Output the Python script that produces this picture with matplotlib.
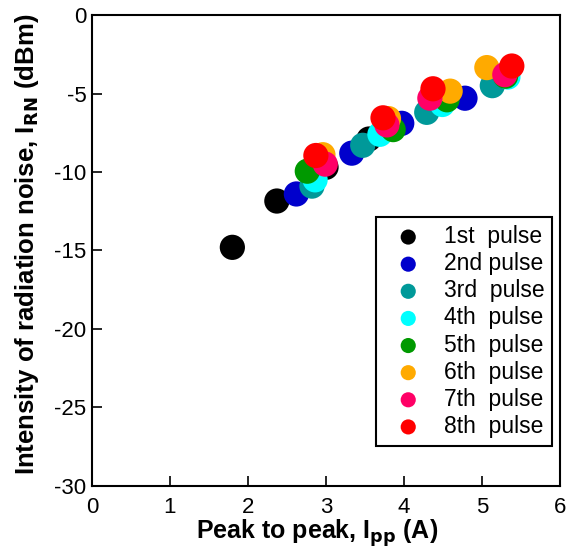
import matplotlib
matplotlib.use("Agg")
import matplotlib.pyplot as plt

plt.rcParams["font.family"] = ["Liberation Sans", "DejaVu Sans"]
plt.rcParams["axes.unicode_minus"] = False

labels = ["1st  pulse", "2nd pulse", "3rd  pulse", "4th  pulse",
          "5th  pulse", "6th  pulse", "7th  pulse", "8th  pulse"]
colors = ["#000000", "#0000cc", "#009999", "#00ffff",
          "#009900", "#ffaa00", "#ff0066", "#ff0000"]

# Ipp (A), IRN (dBm) per impulso
ipp = [
    [1.80, 2.37, 3.00, 3.55],
    [2.62, 3.33, 3.97, 4.78],
    [2.82, 3.47, 4.29, 5.13],
    [2.86, 3.69, 4.49, 5.33],
    [2.76, 3.86, 4.55, 5.30],
    [2.96, 3.80, 4.59, 5.06],
    [2.99, 3.78, 4.33, 5.29],
    [2.87, 3.73, 4.37, 5.38],
]
irn = [
    [-14.8, -11.85, -9.7, -7.9],
    [-11.4, -8.8, -6.9, -5.3],
    [-10.9, -8.3, -6.2, -4.5],
    [-10.5, -7.6, -5.7, -3.95],
    [-9.95, -7.3, -5.4, -3.9],
    [-8.9, -6.6, -4.85, -3.35],
    [-9.5, -7.0, -5.3, -3.8],
    [-8.95, -6.55, -4.7, -3.25],
]

fig = plt.figure(figsize=(5.74, 5.56), dpi=100)
ax = fig.add_axes([0.160, 0.126, 0.816, 0.847])

for x, y, c, lab in zip(ipp, irn, colors, labels):
    ax.scatter(x, y, s=330, color=c, edgecolors="none", label=lab, zorder=3)

ax.set_xlim(0, 6)
ax.set_ylim(-30, 0)
ax.set_xticks(range(0, 7))
ax.set_yticks(range(-30, 1, 5))
ax.tick_params(direction="in", length=7, width=1.2, labelsize=16)
ax.tick_params(axis="x", pad=8)
ax.tick_params(axis="y", pad=4)
for sp in ax.spines.values():
    sp.set_linewidth(1.5)

ax.set_xlabel(r"Peak to peak, I$_{\mathbf{pp}}$ (A)", fontsize=18,
              fontweight="bold")
ax.set_ylabel(r"Intensity of radiation noise, I$_{\mathbf{RN}}$ (dBm)",
              fontsize=18.5, fontweight="bold")
ax.xaxis.set_label_coords(0.481, -0.066)
ax.yaxis.set_label_coords(-0.108, 0.513)

leg = ax.legend(loc="upper left", bbox_to_anchor=(0.607, 0.571),
                fontsize=16.5, markerscale=0.6, fancybox=False,
                edgecolor="black", framealpha=1, handletextpad=0.5,
                labelspacing=0.18, borderpad=0.35, handlelength=2.1,
                borderaxespad=0)
leg.get_frame().set_linewidth(1.5)

fig.savefig("out.png", dpi=100)
